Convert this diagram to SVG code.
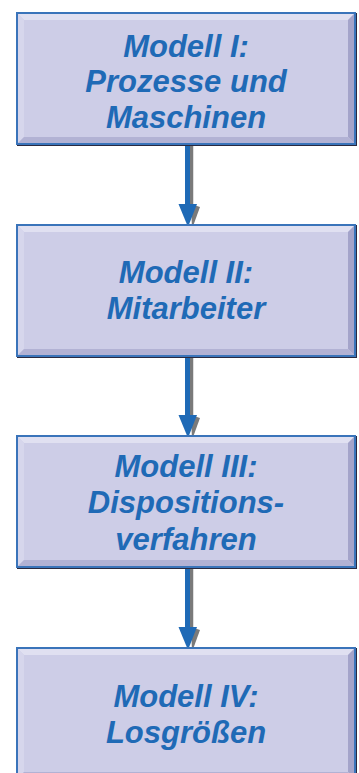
<svg xmlns="http://www.w3.org/2000/svg" width="359" height="773" viewBox="0 0 359 773">
<defs>
<style>
.frame{fill:#CDCDE7;stroke:#3A74BA;stroke-width:2}
.shadow{fill:none;stroke:#2A2A40;stroke-width:2}
.bt{fill:#E0E0F1}
.bl{fill:#D6D6EC}
.br{fill:#A4A4CA}
.bb{fill:#B2B2D4}
.lbl{font-family:"Liberation Sans",Arial,sans-serif;font-weight:bold;font-style:italic;font-size:31px;fill:#1F6AB6;text-anchor:middle}
.shaft{stroke:#1F6AB6;stroke-width:5}
.head{fill:#1F6AB6}
.gshaft{stroke:#7A7A7A;stroke-width:3.5}
.ghead{fill:#7A7A7A}
</style>
<g id="box">
<rect class="shadow" x="18" y="1" width="338" height="131"/>
<rect class="frame" x="17" y="0" width="338" height="131"/>
<polygon class="bt" points="18,1 354,1 348,7 24,7"/>
<polygon class="bl" points="18,1 24,7 24,124 18,130"/>
<polygon class="br" points="354,1 354,130 348,124 348,7"/>
<polygon class="bb" points="18,130 24,124 348,124 354,130"/>
<rect x="17" y="0" width="338" height="131" fill="none" stroke="#3A74BA" stroke-width="2"/>
</g>
</defs>
<g id="connectors">
<g id="a1">
<line class="gshaft" x1="191.5" y1="145" x2="191.5" y2="210"/>
<polygon class="ghead" points="191,204 200,207 192,229"/>
<line class="shaft" x1="187.5" y1="144" x2="187.5" y2="206"/>
<polygon class="head" points="178.5,204 197,204 188,227"/>
</g>
<g id="a2">
<line class="gshaft" x1="191.5" y1="356" x2="191.5" y2="421"/>
<polygon class="ghead" points="191,415 200,418 192,440"/>
<line class="shaft" x1="187.5" y1="355" x2="187.5" y2="417"/>
<polygon class="head" points="178.5,415 197,415 188,438"/>
</g>
<g id="a3">
<line class="gshaft" x1="191.5" y1="568" x2="191.5" y2="633"/>
<polygon class="ghead" points="191,627 200,630 192,652"/>
<line class="shaft" x1="187.5" y1="567" x2="187.5" y2="629"/>
<polygon class="head" points="178.5,627 197,627 188,650"/>
</g>
</g>
<g id="node1">
<use href="#box" x="0" y="13"/>
<text class="lbl" x="186" y="57">Modell I:</text>
<text class="lbl" x="186" y="92">Prozesse und</text>
<text class="lbl" x="186" y="128">Maschinen</text>
</g>
<g id="node2">
<use href="#box" x="0" y="225"/>
<text class="lbl" x="186" y="283">Modell II:</text>
<text class="lbl" x="186" y="319">Mitarbeiter</text>
</g>
<g id="node3">
<use href="#box" x="0" y="436"/>
<text class="lbl" x="186" y="477">Modell III:</text>
<text class="lbl" x="186" y="513">Dispositions-</text>
<text class="lbl" x="186" y="550">verfahren</text>
</g>
<g id="node4">
<use href="#box" x="0" y="648"/>
<text class="lbl" x="186" y="707">Modell IV:</text>
<text class="lbl" x="186" y="743">Losgrößen</text>
</g>
</svg>
